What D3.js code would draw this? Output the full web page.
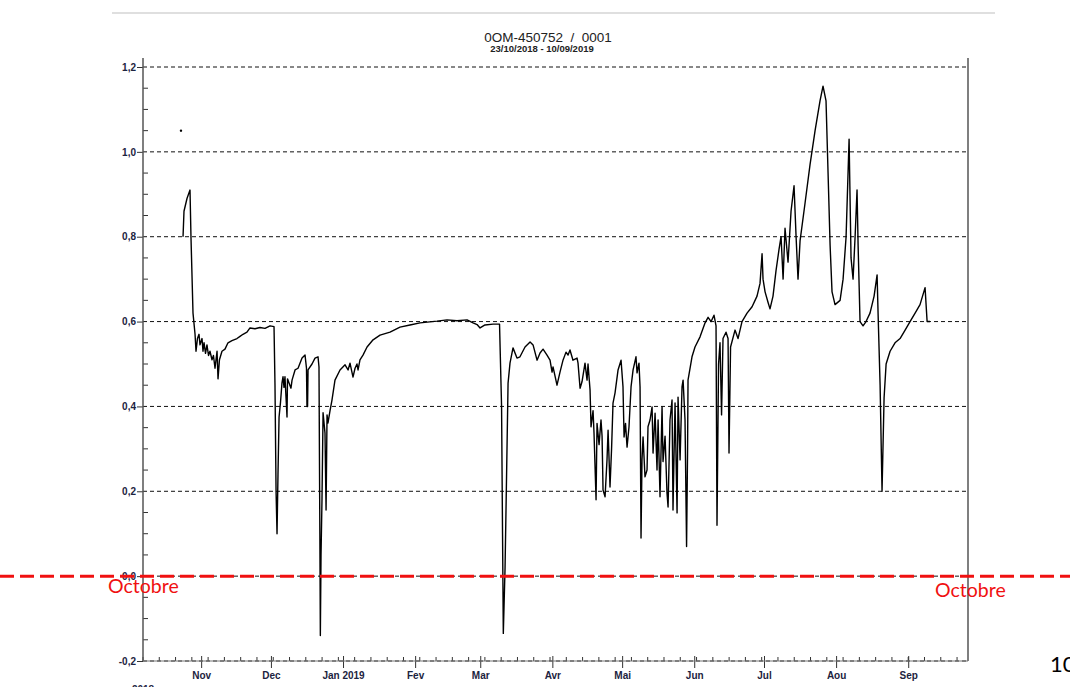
<!DOCTYPE html>
<meta charset="utf-8">
<script src="https://d3js.org/d3.v7.min.js"></script>
<style>
  body { margin: 0; background: #fff; }
  svg { display: block; }
</style>
<div id="chart"></div>
<script>
// readings of the level curve (date + hour, value)
const dates = [
  "2018-10-24 05","2018-10-24 15","2018-10-25 22","2018-10-27 05","2018-10-27 15","2018-10-28 12",
  "2018-10-29 09","2018-10-29 19","2018-10-30 10","2018-10-31 02","2018-10-31 12","2018-11-01 09",
  "2018-11-01 19","2018-11-02 06","2018-11-02 21","2018-11-03 12","2018-11-04 04","2018-11-04 19",
  "2018-11-05 16","2018-11-06 07","2018-11-06 23","2018-11-07 20","2018-11-08 06","2018-11-08 21",
  "2018-11-09 23","2018-11-11 06","2018-11-12 13","2018-11-14 06","2018-11-16 10","2018-11-17 17",
  "2018-11-19 00","2018-11-20 17","2018-11-22 00","2018-11-24 04","2018-11-26 07","2018-11-28 11",
  "2018-11-30 15","2018-12-02 08","2018-12-02 18","2018-12-03 05","2018-12-03 15","2018-12-04 01",
  "2018-12-04 12","2018-12-05 03","2018-12-05 18","2018-12-06 05","2018-12-06 15","2018-12-07 01",
  "2018-12-07 12","2018-12-07 22","2018-12-08 03","2018-12-08 19","2018-12-09 15","2018-12-10 02",
  "2018-12-11 09","2018-12-12 16","2018-12-14 09","2018-12-15 16","2018-12-16 07","2018-12-16 12",
  "2018-12-16 18","2018-12-16 23","2018-12-18 16","2018-12-19 23","2018-12-21 06","2018-12-21 16",
  "2018-12-22 01","2018-12-22 06","2018-12-22 13","2018-12-22 23","2018-12-23 10","2018-12-24 06",
  "2018-12-24 17","2018-12-25 03","2018-12-25 13","2018-12-26 10","2018-12-27 06","2018-12-28 13",
  "2018-12-30 17","2019-01-01 21","2019-01-03 04","2019-01-04 00","2019-01-05 07","2019-01-06 04",
  "2019-01-07 00","2019-01-07 11","2019-01-08 07","2019-01-09 14","2019-01-11 08","2019-01-13 22",
  "2019-01-16 22","2019-01-21 05","2019-01-25 12","2019-01-29 19","2019-02-03 03","2019-02-10 10",
  "2019-02-14 17","2019-02-19 00","2019-02-23 08","2019-02-25 22","2019-02-27 15","2019-02-28 22",
  "2019-03-03 01","2019-03-06 12","2019-03-09 07","2019-03-10 04","2019-03-10 14","2019-03-10 22",
  "2019-03-11 16","2019-03-12 09","2019-03-12 23","2019-03-13 19","2019-03-15 02","2019-03-16 19",
  "2019-03-18 02","2019-03-20 06","2019-03-22 10","2019-03-23 17","2019-03-25 10","2019-03-26 17",
  "2019-03-28 00","2019-03-29 17","2019-03-31 00","2019-03-31 21","2019-04-01 07","2019-04-03 00",
  "2019-04-04 07","2019-04-05 14","2019-04-06 21","2019-04-07 18","2019-04-08 14","2019-04-09 21",
  "2019-04-11 15","2019-04-12 01","2019-04-12 22","2019-04-13 18","2019-04-15 01","2019-04-15 22",
  "2019-04-16 08","2019-04-17 05","2019-04-17 15","2019-04-18 12","2019-04-18 22","2019-04-19 19",
  "2019-04-20 05","2019-04-21 02","2019-04-21 22","2019-04-22 09","2019-04-22 19","2019-04-23 16",
  "2019-04-24 12","2019-04-24 23","2019-04-25 19","2019-04-26 11","2019-04-27 02","2019-04-27 23",
  "2019-04-29 06","2019-04-30 13","2019-05-01 09","2019-05-01 20","2019-05-02 11","2019-05-03 03",
  "2019-05-03 23","2019-05-04 20","2019-05-05 17","2019-05-06 23","2019-05-07 10","2019-05-08 06",
  "2019-05-08 17","2019-05-09 03","2019-05-09 13","2019-05-10 00","2019-05-10 20","2019-05-11 17",
  "2019-05-12 03","2019-05-13 00","2019-05-13 21","2019-05-14 07","2019-05-15 04","2019-05-16 00",
  "2019-05-16 11","2019-05-17 07","2019-05-18 04","2019-05-18 14","2019-05-19 11","2019-05-20 07",
  "2019-05-20 18","2019-05-21 14","2019-05-22 11","2019-05-22 21","2019-05-23 18","2019-05-24 15",
  "2019-05-25 01","2019-05-25 22","2019-05-26 18","2019-05-27 05","2019-05-28 01","2019-05-28 17",
  "2019-05-29 03","2019-05-29 08","2019-05-31 01","2019-06-01 08","2019-06-03 12","2019-06-05 16",
  "2019-06-06 23","2019-06-08 06","2019-06-09 12","2019-06-10 09","2019-06-10 19","2019-06-11 11",
  "2019-06-12 02","2019-06-12 18","2019-06-13 09","2019-06-14 16","2019-06-15 13","2019-06-15 23",
  "2019-06-16 15","2019-06-18 13","2019-06-19 20","2019-06-21 13","2019-06-23 17","2019-06-25 21",
  "2019-06-28 00","2019-06-29 07","2019-06-30 04","2019-06-30 14","2019-07-01 11","2019-07-02 18",
  "2019-07-03 14","2019-07-04 21","2019-07-06 04","2019-07-07 11","2019-07-08 08","2019-07-09 05",
  "2019-07-10 01","2019-07-11 08","2019-07-12 15","2019-07-13 22","2019-07-14 19","2019-07-15 15",
  "2019-07-16 12","2019-07-18 16","2019-07-20 19","2019-07-22 23","2019-07-25 02","2019-07-26 09",
  "2019-07-27 16","2019-07-28 13","2019-07-29 10","2019-07-30 06","2019-07-31 13","2019-08-02 17",
  "2019-08-04 00","2019-08-05 07","2019-08-06 14","2019-08-07 10","2019-08-08 07","2019-08-09 04",
  "2019-08-10 00","2019-08-10 11","2019-08-11 07","2019-08-12 14","2019-08-13 21","2019-08-15 14",
  "2019-08-17 08","2019-08-18 15","2019-08-19 01","2019-08-19 22","2019-08-20 18","2019-08-21 15",
  "2019-08-22 12","2019-08-24 05","2019-08-26 08","2019-08-28 12","2019-08-30 16","2019-09-01 19",
  "2019-09-03 23","2019-09-06 02","2019-09-08 06","2019-09-09 03","2019-09-10 10"
];
const values = [
  0.80,0.86,0.89,0.91,0.80,0.62,
  0.57,0.53,0.56,0.57,0.545,0.56,
  0.53,0.55,0.525,0.545,0.52,0.53,
  0.51,0.52,0.49,0.53,0.465,0.51,
  0.53,0.535,0.55,0.555,0.56,0.565,
  0.57,0.575,0.585,0.583,0.586,0.584,
  0.59,0.588,0.45,0.20,0.10,0.24,
  0.375,0.41,0.455,0.47,0.445,0.47,
  0.42,0.375,0.465,0.455,0.443,0.462,
  0.486,0.49,0.514,0.521,0.49,0.40,
  0.40,0.486,0.50,0.514,0.517,0.493,
  0.10,-0.14,0.05,0.18,0.385,0.337,
  0.156,0.38,0.361,0.39,0.415,0.462,
  0.486,0.498,0.486,0.502,0.469,0.49,
  0.50,0.486,0.51,0.521,0.54,0.557,
  0.568,0.575,0.587,0.592,0.597,0.601,
  0.604,0.602,0.604,0.597,0.593,0.585,
  0.592,0.594,0.594,0.40,0.10,-0.135,
  0.02,0.257,0.455,0.502,0.538,0.514,
  0.517,0.54,0.552,0.545,0.509,0.526,
  0.535,0.521,0.509,0.481,0.493,0.45,
  0.481,0.509,0.528,0.521,0.533,0.509,
  0.514,0.502,0.443,0.458,0.502,0.462,
  0.50,0.439,0.352,0.39,0.337,0.18,
  0.36,0.31,0.368,0.33,0.203,0.187,
  0.274,0.344,0.21,0.30,0.408,0.432,
  0.486,0.509,0.446,0.328,0.36,0.304,
  0.352,0.446,0.486,0.517,0.479,0.502,
  0.446,0.09,0.274,0.328,0.234,0.25,
  0.352,0.368,0.399,0.29,0.384,0.25,
  0.368,0.187,0.399,0.27,0.33,0.196,
  0.163,0.368,0.415,0.156,0.408,0.149,
  0.422,0.274,0.446,0.462,0.368,0.07,
  0.29,0.462,0.517,0.54,0.564,0.597,
  0.61,0.60,0.615,0.59,0.12,0.50,
  0.55,0.38,0.56,0.575,0.56,0.29,
  0.54,0.58,0.56,0.60,0.62,0.635,
  0.66,0.69,0.76,0.70,0.67,0.645,
  0.63,0.66,0.72,0.77,0.80,0.70,
  0.82,0.74,0.86,0.92,0.80,0.70,
  0.79,0.88,0.97,1.05,1.12,1.155,
  1.12,0.95,0.78,0.67,0.64,0.65,
  0.70,0.80,1.03,0.75,0.70,0.80,
  0.91,0.78,0.60,0.59,0.60,0.62,
  0.66,0.71,0.62,0.45,0.20,0.42,
  0.50,0.53,0.55,0.56,0.58,0.60,
  0.62,0.64,0.68,0.60,0.60
];
// lone reading before the curve starts
const loneDate = ["2018-10-23 08"];
const loneValue = [1.05];

const yTicks = [-0.2, 0, 0.2, 0.4, 0.6, 0.8, 1.0, 1.2];
const monthTicks = ["2018-11-01","2018-12-01","2019-01-01","2019-02-01","2019-03-01","2019-04-01",
  "2019-05-01","2019-06-01","2019-07-01","2019-08-01","2019-09-01"];
const monthLabels = ["Nov","Dec","Jan 2019","Fev","Mar","Avr","Mai","Jun","Jul","Aou","Sep"];

const W = 1070, H = 687;
const margin = {top: 58, right: 102, bottom: 26, left: 143};
const parse = d3.timeParse("%Y-%m-%d %H");
const parseDay = d3.timeParse("%Y-%m-%d");

const data = dates.map((d, i) => ({t: parse(d), v: values[i]}));
const lone = loneDate.map((d, i) => ({t: parse(d), v: loneValue[i]}));

const svg = d3.select("#chart").append("svg")
  .attr("width", W).attr("height", H);

const x = d3.scaleTime()
  .domain([parse("2018-10-07 00"), parse("2019-09-26 17")])
  .range([margin.left, W - margin.right]);
const y = d3.scaleLinear()
  .domain([-0.2, 1.2])
  .range([661, 67]);

const tickFont = "'Liberation Sans Narrow', 'Liberation Sans', Arial, sans-serif";
const fmt = v => d3.format(".1f")(v).replace(".", ",").replace("−", "-");

// top separator
svg.append("line")
  .attr("x1", 112).attr("x2", 995).attr("y1", 13).attr("y2", 13)
  .attr("stroke", "#d4d4d4").attr("stroke-width", 1.5);

// title
svg.append("text")
  .attr("x", 548).attr("y", 42)
  .attr("text-anchor", "middle")
  .style("white-space", "pre")
  .style("font-family", "'Liberation Sans', Arial, sans-serif")
  .style("font-size", "13.5px").attr("fill", "#222")
  .text("0OM-450752  /  0001");
svg.append("text")
  .attr("x", 542).attr("y", 52)
  .attr("text-anchor", "middle")
  .style("font-family", tickFont)
  .style("font-size", "9.5px").style("font-weight", "bold").attr("fill", "#222")
  .text("23/10/2018 - 10/09/2019");

// dashed gridlines
svg.append("g").selectAll("line")
  .data(yTicks)
  .join("line")
    .attr("x1", margin.left).attr("x2", W - margin.right)
    .attr("y1", d => y(d)).attr("y2", d => y(d))
    .attr("stroke", "#111").attr("stroke-width", 1)
    .attr("stroke-dasharray", "4,3");

// Y axis
const yAxis = svg.append("g")
  .attr("transform", `translate(${margin.left},0)`)
  .call(d3.axisLeft(y).tickValues(yTicks).tickFormat(fmt).tickSize(6).tickPadding(1));
yAxis.select(".domain").remove();
yAxis.selectAll("line").attr("stroke", "#333");
yAxis.selectAll("text")
  .style("font-family", tickFont).style("font-size", "10px")
  .style("font-weight", "bold").attr("fill", "#1c2340");

// y minor ticks (inside), every 0.05 between the labelled ones
const minorY = d3.range(-0.15, 1.2, 0.05)
  .filter(v => Math.abs(Math.round(v * 20) % 4) !== 0);
svg.append("g").selectAll("line")
  .data(minorY)
  .join("line")
    .attr("x1", margin.left).attr("x2", margin.left + 5)
    .attr("y1", d => y(d)).attr("y2", d => y(d))
    .attr("stroke", "#333").attr("stroke-width", 1);

// X axis: weekly minor ticks inside, month ticks across
svg.append("g").selectAll("line")
  .data(d3.timeWeek.range(x.domain()[0], x.domain()[1]))
  .join("line")
    .attr("x1", d => x(d)).attr("x2", d => x(d))
    .attr("y1", 661).attr("y2", 657)
    .attr("stroke", "#333").attr("stroke-width", 1);

const xAxis = svg.append("g")
  .attr("transform", "translate(0,661)")
  .call(d3.axisBottom(x)
    .tickValues(monthTicks.map(parseDay))
    .tickFormat((d, i) => monthLabels[i])
    .tickSize(7).tickPadding(4));
xAxis.select(".domain").remove();
xAxis.selectAll("line").attr("stroke", "#333").attr("y1", -5);
xAxis.selectAll("text")
  .style("font-family", tickFont).style("font-size", "10px")
  .style("font-weight", "bold").attr("fill", "#1c2340");

svg.append("text")
  .attr("x", x(parseDay("2018-10-07"))).attr("y", 693)
  .attr("text-anchor", "middle")
  .style("font-family", tickFont).style("font-size", "10px")
  .style("font-weight", "bold").attr("fill", "#1c2340")
  .text("2018");

// frame lines
svg.append("line")
  .attr("x1", margin.left).attr("x2", margin.left)
  .attr("y1", margin.top).attr("y2", 661)
  .attr("stroke", "#555").attr("stroke-width", 1.5);
svg.append("line")
  .attr("x1", W - margin.right).attr("x2", W - margin.right)
  .attr("y1", margin.top).attr("y2", 661)
  .attr("stroke", "#555").attr("stroke-width", 1.5);
svg.append("line")
  .attr("x1", margin.left).attr("x2", W - margin.right)
  .attr("y1", 661).attr("y2", 661)
  .attr("stroke", "#777").attr("stroke-width", 1);

// level curve
const line = d3.line().x(d => x(d.t)).y(d => y(d.v));
svg.append("path")
  .datum(data)
  .attr("fill", "none")
  .attr("stroke", "#000")
  .attr("stroke-width", 1.4)
  .attr("stroke-linejoin", "round")
  .attr("d", line);

svg.selectAll("circle.lone")
  .data(lone)
  .join("circle")
    .attr("class", "lone")
    .attr("cx", d => x(d.t)).attr("cy", d => y(d.v))
    .attr("r", 1.2).attr("fill", "#000");

// red annotation at zero
svg.append("line")
  .attr("x1", 0).attr("x2", W)
  .attr("y1", y(0)).attr("y2", y(0))
  .attr("stroke", "#f01010").attr("stroke-width", 3)
  .attr("stroke-dasharray", "14,6");

svg.append("text")
  .attr("x", 108).attr("y", 593)
  .style("font-family", "Lato, 'Open Sans', sans-serif")
  .style("font-size", "19.5px").attr("fill", "#f01010")
  .text("Octobre");
svg.append("text")
  .attr("x", 935).attr("y", 597)
  .style("font-family", "Lato, 'Open Sans', sans-serif")
  .style("font-size", "19.5px").attr("fill", "#f01010")
  .text("Octobre");

svg.append("text")
  .attr("x", 1050).attr("y", 672)
  .style("font-family", "Lato, 'Open Sans', sans-serif")
  .style("font-size", "22px").attr("fill", "#000")
  .text("10");
</script>
